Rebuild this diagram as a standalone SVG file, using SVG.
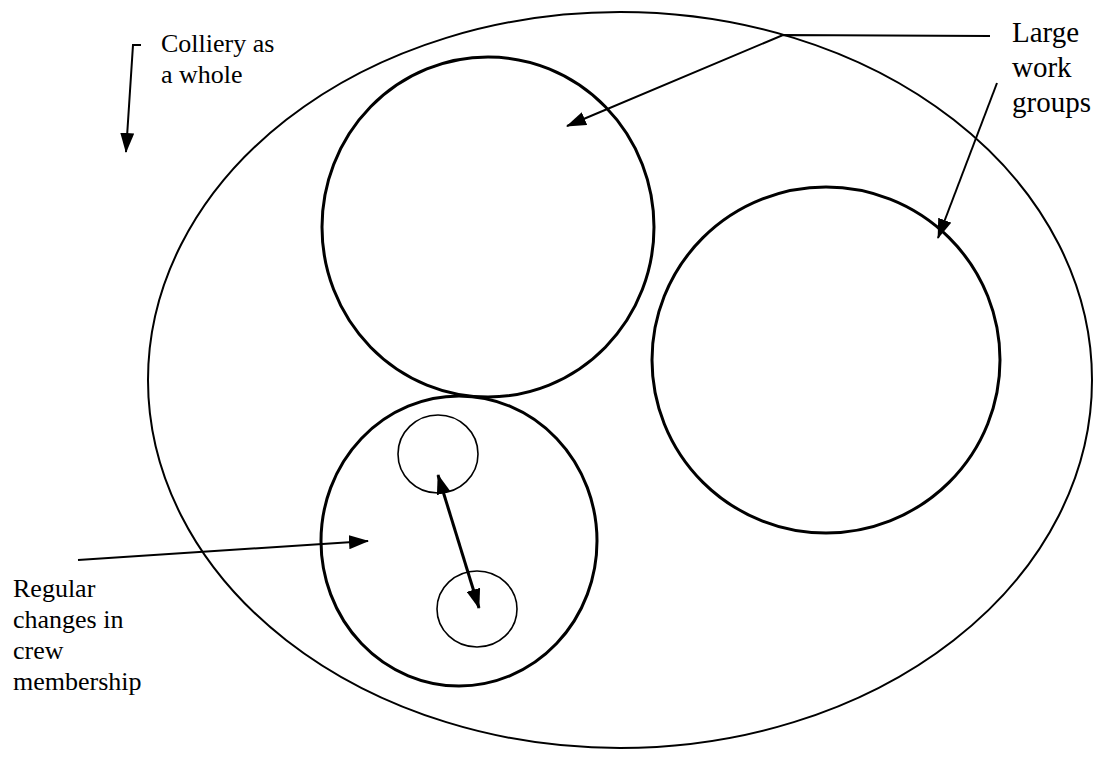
<svg xmlns="http://www.w3.org/2000/svg" width="1103" height="762" viewBox="0 0 1103 762">
<style>
.bg{fill:#fff}
.outer{fill:none;stroke:#000;stroke-width:2}
.group{fill:none;stroke:#000;stroke-width:3}
.crew{fill:none;stroke:#000;stroke-width:1.6}
.conn{fill:none;stroke:#000;stroke-width:2}
.thick{fill:none;stroke:#000;stroke-width:3}
text{fill:#000}
</style>
<defs>
<marker id="ah" markerUnits="userSpaceOnUse" markerWidth="20" markerHeight="14" viewBox="0 0 20 14" refX="19" refY="7" orient="auto">
<path d="M0,0 L20,7 L0,14 z" fill="#000"/>
</marker>
<marker id="ahs" markerUnits="userSpaceOnUse" markerWidth="20" markerHeight="14" viewBox="0 0 20 14" refX="19" refY="7" orient="auto-start-reverse">
<path d="M0,0 L20,7 L0,14 z" fill="#000"/>
</marker>
</defs>
<rect class="bg" x="0" y="0" width="1103" height="762"/>
<g id="colliery">
<ellipse class="outer" cx="620" cy="380" rx="472" ry="368"/>
</g>
<g id="group1">
<ellipse class="group" cx="488" cy="227" rx="166" ry="170"/>
</g>
<g id="group2">
<ellipse class="group" cx="826" cy="360" rx="174" ry="173"/>
</g>
<g id="group3">
<ellipse class="group" cx="459" cy="541" rx="138" ry="145"/>
</g>
<g id="crew1">
<ellipse class="crew" cx="438" cy="454" rx="40" ry="39"/>
</g>
<g id="crew2">
<ellipse class="crew" cx="477" cy="609" rx="40" ry="38"/>
</g>
<g id="connectors">
<path class="conn" d="M141,45 L133,45 L126,152" marker-end="url(#ah)"/>
<path class="conn" d="M990,36 L783,35 L567,126" marker-end="url(#ah)"/>
<path class="conn" d="M997,83 L938,238" marker-end="url(#ah)"/>
<path class="conn" d="M78,560 L368,541" marker-end="url(#ah)"/>
<path class="thick" d="M438,475 L479,608" marker-start="url(#ahs)" marker-end="url(#ah)"/>
</g>
<g id="label-colliery" font-family="Liberation Serif, Times New Roman, serif" font-size="26">
<text x="161" y="52">Colliery as</text>
<text x="161" y="83">a whole</text>
</g>
<g id="label-large" font-family="Liberation Serif, Times New Roman, serif" font-size="29">
<text x="1012" y="42">Large</text>
<text x="1012" y="77">work</text>
<text x="1012" y="112">groups</text>
</g>
<g id="label-regular" font-family="Liberation Serif, Times New Roman, serif" font-size="26">
<text x="13" y="597">Regular</text>
<text x="13" y="628">changes in</text>
<text x="13" y="659">crew</text>
<text x="13" y="690">membership</text>
</g>
</svg>
